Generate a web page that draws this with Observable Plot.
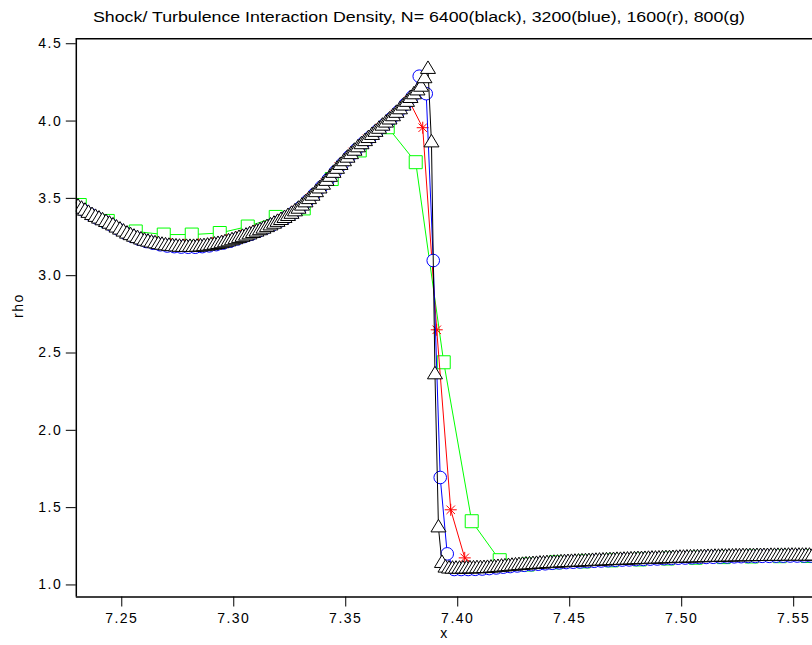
<!DOCTYPE html>
<html><head><meta charset="utf-8">
<script src="https://cdn.jsdelivr.net/npm/d3@7"></script>
<script src="https://cdn.jsdelivr.net/npm/@observablehq/plot@0.6"></script>
<style>
body{margin:0;background:#fff;}
#title{display:block}
#chart svg text{letter-spacing:1.5px}
</style></head><body>
<svg id="title" width="812" height="30"><text x="93" y="22" textLength="652" lengthAdjust="spacingAndGlyphs" font-family="Liberation Sans, Arial, sans-serif" font-size="14">Shock/ Turbulence Interaction Density, N= 6400(black), 3200(blue), 1600(r), 800(g)</text></svg>
<div id="chart"></div>
<script>
// Uniform mesh cell centres: x = (i + 0.5) * h, first visible cell index i0
const greenMesh = {i0: 578, h: 0.0125};     // N = 800
const redMesh   = {i0: 1157, h: 0.00625};   // N = 1600
const blueMesh  = {i0: 2314, h: 0.003125};  // N = 3200
const blackMesh = {i0: 4627, h: 0.0015625}; // N = 6400

const greenRho = [3.457,3.354,3.286,3.266,3.266,3.276,3.318,3.38,3.435,3.625,
3.81,3.96,3.734,2.44,1.412,1.16,1.132,1.146,1.152,1.159,
1.165,1.171,1.176,1.18,1.184,1.186,1.187,1.188];

const redRho = [3.41,3.36,3.315,3.27,3.235,3.215,3.205,3.2,3.203,3.212,
3.232,3.258,3.29,3.325,3.37,3.425,3.505,3.6,3.705,3.8,
3.885,3.96,4.045,4.135,3.957,2.65,1.486,1.175,1.108,1.11,
1.118,1.126,1.133,1.14,1.144,1.148,1.152,1.156,1.16,1.163,
1.166,1.169,1.172,1.175,1.177,1.18,1.182,1.184,1.185,1.186,
1.186,1.187,1.187];

const blueRho = [3.424,3.397,3.372,3.35,3.328,3.302,3.277,3.254,3.236,3.221,
3.21,3.2,3.192,3.188,3.185,3.184,3.184,3.188,3.193,3.201,
3.211,3.223,3.238,3.253,3.269,3.287,3.306,3.328,3.351,3.376,
3.405,3.44,3.482,3.526,3.573,3.622,3.672,3.722,3.77,3.815,
3.857,3.896,3.936,3.975,4.016,4.06,4.108,4.157,4.29,4.177,
3.098,1.695,1.201,1.1,1.1,1.1,1.101,1.103,1.106,1.11,
1.115,1.119,1.123,1.127,1.131,1.134,1.137,1.14,1.143,1.145,
1.147,1.149,1.151,1.153,1.155,1.157,1.159,1.161,1.162,1.164,
1.165,1.167,1.168,1.17,1.171,1.173,1.174,1.176,1.177,1.178,
1.179,1.18,1.181,1.182,1.183,1.184,1.184,1.185,1.185,1.186,
1.186,1.187,1.187,1.187,1.187];

const blackRho = [3.445,3.431,3.418,3.404,3.39,3.378,3.367,3.356,3.345,3.334,
3.323,3.309,3.296,3.283,3.27,3.26,3.25,3.241,3.232,3.224,
3.218,3.212,3.207,3.202,3.198,3.194,3.191,3.189,3.187,3.185,
3.184,3.184,3.184,3.184,3.185,3.187,3.189,3.192,3.195,3.199,
3.203,3.208,3.214,3.22,3.227,3.234,3.242,3.249,3.257,3.265,
3.274,3.283,3.292,3.302,3.312,3.323,3.334,3.346,3.358,3.371,
3.384,3.398,3.414,3.431,3.451,3.472,3.493,3.515,3.538,3.562,
3.586,3.611,3.637,3.663,3.689,3.714,3.738,3.761,3.784,3.806,
3.828,3.848,3.868,3.888,3.908,3.928,3.948,3.968,3.988,4.008,
4.029,4.051,4.074,4.098,4.122,4.147,4.171,4.196,4.22,4.275,
4.335,3.86,2.36,1.37,1.14,1.11,1.104,1.103,1.103,1.103,
1.104,1.104,1.105,1.105,1.106,1.106,1.107,1.108,1.11,1.112,
1.114,1.116,1.118,1.12,1.122,1.124,1.126,1.128,1.13,1.131,
1.133,1.134,1.136,1.137,1.139,1.14,1.141,1.142,1.144,1.145,
1.146,1.147,1.148,1.149,1.15,1.151,1.152,1.153,1.154,1.155,
1.156,1.157,1.158,1.159,1.16,1.16,1.161,1.162,1.163,1.164,
1.165,1.165,1.166,1.167,1.168,1.168,1.169,1.17,1.171,1.171,
1.172,1.173,1.174,1.174,1.175,1.176,1.176,1.177,1.177,1.178,
1.179,1.179,1.18,1.18,1.181,1.181,1.182,1.182,1.183,1.183,
1.184,1.184,1.184,1.184,1.185,1.185,1.185,1.185,1.186,1.186,
1.186,1.186,1.186,1.187,1.187,1.187,1.187,1.187,1.187,1.187,1.188];

const xTicks = [7.25, 7.30, 7.35, 7.40, 7.45, 7.50, 7.55];
const yTicks = [1.0, 1.5, 2.0, 2.5, 3.0, 3.5, 4.0, 4.5];
const xDomain = [7.2297, 7.5584];
const yDomain = [0.922, 4.532];

const toRows = (mesh, ys) => ys.map((y, k) => ({x: (mesh.i0 + k + 0.5) * mesh.h, y}));
const green = toRows(greenMesh, greenRho);
const red = toRows(redMesh, redRho);
const blue = toRows(blueMesh, blueRho);
const black = toRows(blackMesh, blackRho);

// custom marker shapes
const triangle = {draw(ctx, size) {
  const r = Math.sqrt(size / Math.PI), h = r * 12.5 / 7.5;
  ctx.moveTo(0, -h * 2 / 3); ctx.lineTo(r, h / 3); ctx.lineTo(-r, h / 3); ctx.closePath();
}};
const square = {draw(ctx, size) {
  const r = Math.sqrt(size / Math.PI);
  ctx.moveTo(-r, -r); ctx.lineTo(r, -r); ctx.lineTo(r, r); ctx.lineTo(-r, r); ctx.closePath();
}};
const star = {draw(ctx, size) {
  const r = Math.sqrt(size / Math.PI);
  for (let a = 0; a < 4; a++) {
    const t = a * Math.PI / 4, c = Math.cos(t) * r, s = Math.sin(t) * r;
    ctx.moveTo(-c, -s); ctx.lineTo(c, s);
  }
}};

const series = (data, color, symbol, r, fill) => [
  Plot.line(data, {x: "x", y: "y", stroke: color, strokeWidth: 1, clip: true}),
  Plot.dot(data, {x: "x", y: "y", symbol, r, fill, stroke: color, strokeWidth: 1, clip: true})
];

const chart = Plot.plot({
  width: 812,
  height: 615,
  marginTop: 8.3,
  marginBottom: 48.5,
  marginLeft: 75.8,
  marginRight: 0,
  style: {fontFamily: "Liberation Sans, Arial, sans-serif", fontSize: "14px", background: "white", color: "black"},
  x: {domain: xDomain},
  y: {domain: yDomain},
  marks: [
    ...series(green, "#00ff00", square, 6.5, "white"),
    ...series(red, "#ff0000", star, 6, "none"),
    ...series(blue, "#0000ff", "circle", 6.3, "white"),
    ...series(black, "black", triangle, 7.5, "white"),
    Plot.ruleX([xDomain[0]], {stroke: "black", strokeWidth: 1.5}),
    Plot.ruleY(yDomain, {stroke: "black", strokeWidth: 1.5}),
    Plot.axisX({ticks: xTicks, tickFormat: d => d.toFixed(2), tickSize: 10, tickPadding: 6, label: null}),
    Plot.axisY({ticks: yTicks, tickFormat: d => d.toFixed(1), tickSize: 10, tickPadding: 4, label: null}),
    Plot.text(["rho"], {frameAnchor: "left", dx: -58, rotate: -90}),
    Plot.text(["x"], {frameAnchor: "bottom", dy: 41})
  ]
});
document.getElementById("chart").appendChild(chart);
</script>
</body></html>
